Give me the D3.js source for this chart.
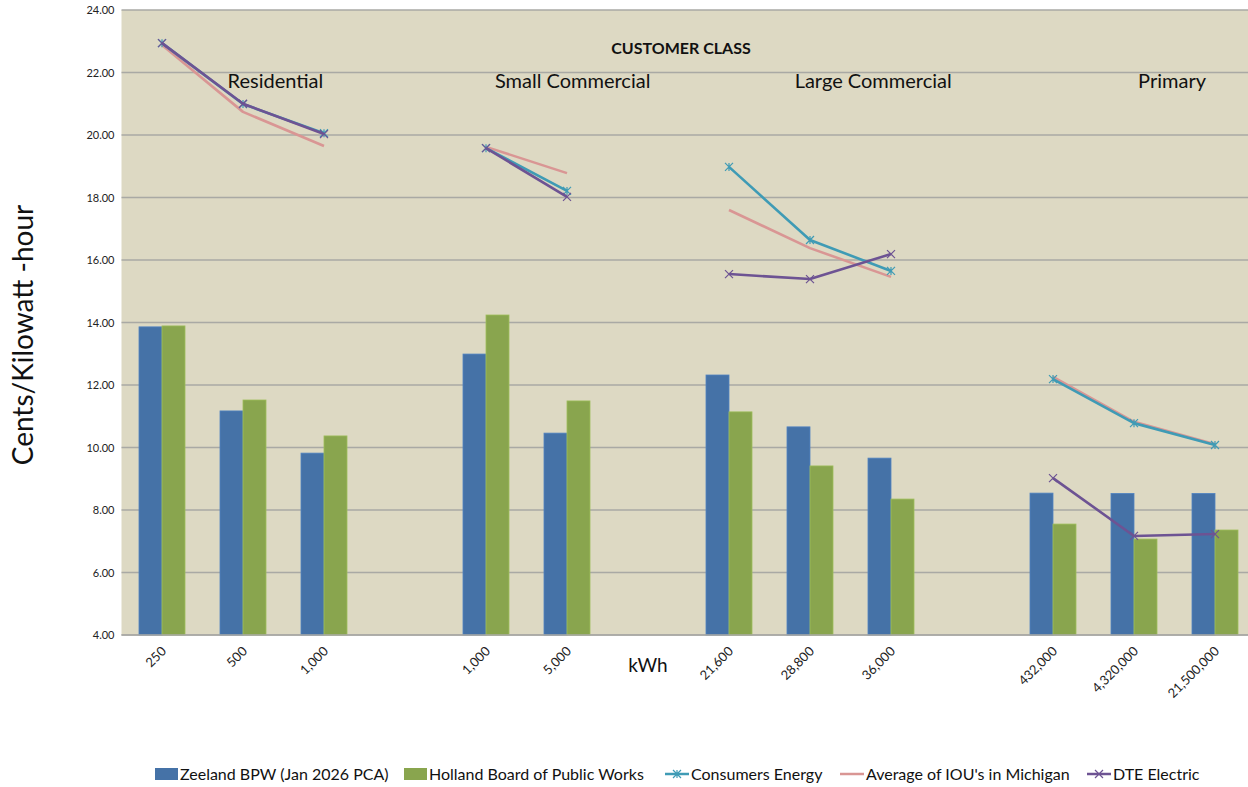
<!DOCTYPE html>
<html>
<head>
<meta charset="utf-8">
<script src="https://cdn.jsdelivr.net/npm/d3@7"></script>
<style>
  body { margin: 0; background: #fff; }
  svg { display: block; font-family: Lato, "Open Sans", sans-serif; }
</style>
</head>
<body>
<svg id="chart" width="1248" height="787"></svg>
<script>
// categories (blank ones are the gaps between customer classes)
var categories = ["250", "500", "1,000", "", "1,000 ", "5,000", " ", "21,600", "28,800", "36,000", "  ", "432,000", "4,320,000", "21,500,000"];

var zeeland   = [13.86, 11.17, 9.82, null, 12.99, 10.46, null, 12.32, 10.66, 9.66, null, 8.54, 8.53, 8.53];
var holland   = [13.89, 11.52, 10.37, null, 14.24, 11.49, null, 11.14, 9.41, 8.35, null, 7.55, 7.07, 7.36];
var consumers = [22.94, 20.99, 20.06, null, 19.58, 18.21, null, 18.98, 16.64, 15.65, null, 12.19, 10.78, 10.08];
var average   = [22.88, 20.74, 19.65, null, 19.62, 18.78, null, 17.60, 16.38, 15.46, null, 12.26, 10.82, 10.10];
var dte       = [22.94, 21.00, 20.03, null, 19.58, 18.02, null, 15.55, 15.39, 16.19, null, 9.02, 7.17, 7.23];

var yTicks = [4, 6, 8, 10, 12, 14, 16, 18, 20, 22, 24];

var classLabels = [
  {name: "Residential", at: 1.4},
  {name: "Small Commercial", at: 5.07},
  {name: "Large Commercial", at: 8.78},
  {name: "Primary", at: 12.47}
];

var width = 1248, height = 787;
var plotLeft = 121.5, plotTop = 10, plotBottom = 635;

var svg = d3.select("#chart");

// band range runs a little past the right edge, like the original
var x = d3.scaleBand()
    .domain(categories)
    .range([plotLeft, plotLeft + 81 * categories.length]);

var y = d3.scaleLinear()
    .domain([4, 24])
    .range([plotBottom, plotTop]);

var barW = 23;

// plot background
svg.append("rect")
    .attr("x", plotLeft)
    .attr("y", plotTop)
    .attr("width", width - plotLeft)
    .attr("height", plotBottom - plotTop)
    .attr("fill", "#ddd9c3");

// gridlines
svg.append("g")
    .selectAll("line")
    .data(yTicks)
  .enter().append("line")
    .attr("x1", plotLeft)
    .attr("x2", width)
    .attr("y1", function(d) { return y(d); })
    .attr("y2", function(d) { return y(d); })
    .attr("stroke", "#a9a9a4")
    .attr("stroke-width", 1.5);

// y axis labels
var yAxis = d3.axisLeft(y)
    .tickValues(yTicks)
    .tickFormat(d3.format(".2f"))
    .tickSize(0)
    .tickPadding(7);

var yG = svg.append("g")
    .attr("transform", "translate(" + plotLeft + ",0)")
    .call(yAxis);
yG.select(".domain").remove();
yG.selectAll("text")
    .attr("font-family", "Lato, sans-serif")
    .attr("font-size", 11)
    .attr("fill", "#222");

// x axis labels
var xAxis = d3.axisBottom(x).tickSize(0).tickPadding(0);
var xG = svg.append("g")
    .attr("transform", "translate(0," + plotBottom + ")")
    .call(xAxis);
xG.select(".domain").remove();
xG.selectAll("text")
    .attr("font-family", "Lato, sans-serif")
    .attr("font-size", 13)
    .attr("fill", "#222")
    .attr("text-anchor", "end")
    .attr("dy", 0)
    .attr("transform", "translate(5,17) rotate(-45)");

// bars
function drawBars(values, color, offset) {
  svg.append("g")
    .selectAll("rect")
    .data(values.map(function(v, i) { return {cat: categories[i], v: v}; })
      .filter(function(d) { return d.v != null; }))
  .enter().append("rect")
    .attr("x", function(d) { return x(d.cat) + x.bandwidth() / 2 + offset; })
    .attr("y", function(d) { return y(d.v); })
    .attr("width", barW)
    .attr("height", function(d) { return y(4) - y(d.v); })
    .attr("fill", color)
    .attr("stroke", d3.color(color).brighter(0.4))
    .attr("stroke-width", 0.8);
}
drawBars(zeeland, "#4572a7", -barW);
drawBars(holland, "#89a54e", 0);

// x axis line
svg.append("line")
    .attr("x1", plotLeft).attr("x2", width)
    .attr("y1", plotBottom).attr("y2", plotBottom)
    .attr("stroke", "#a9a9a4")
    .attr("stroke-width", 1.5);

// lines
function drawLine(values, color, marker) {
  var pts = values.map(function(v, i) { return {cat: categories[i], v: v}; });
  var line = d3.line()
    .defined(function(d) { return d.v != null; })
    .x(function(d) { return x(d.cat) + x.bandwidth() / 2; })
    .y(function(d) { return y(d.v); });
  svg.append("path")
    .datum(pts)
    .attr("d", line)
    .attr("fill", "none")
    .attr("stroke", color)
    .attr("stroke-width", 2.6)
    .attr("stroke-linejoin", "round");
  if (marker) {
    var g = svg.append("g");
    pts.filter(function(d) { return d.v != null; }).forEach(function(d) {
      var cx = x(d.cat) + x.bandwidth() / 2, cy = y(d.v), s = 4;
      var p = "M" + (cx - s) + "," + (cy - s) + "L" + (cx + s) + "," + (cy + s) +
              "M" + (cx - s) + "," + (cy + s) + "L" + (cx + s) + "," + (cy - s);
      if (marker == "star") p += "M" + cx + "," + (cy - s) + "L" + cx + "," + (cy + s);
      g.append("path").attr("d", p).attr("stroke", color).attr("stroke-width", 1.2).attr("fill", "none");
    });
  }
}
drawLine(average, "#d99694", null);
drawLine(consumers, "#3f9bb5", "star");
drawLine(dte, "#6d5393", "x");

// titles
svg.append("text")
    .attr("x", 681).attr("y", 54)
    .attr("text-anchor", "middle")
    .attr("font-size", 16)
    .attr("font-weight", "bold")
    .attr("fill", "#111")
    .text("CUSTOMER CLASS");

svg.append("g")
    .selectAll("text")
    .data(classLabels)
  .enter().append("text")
    .attr("x", function(d) { return plotLeft + x.step() * (d.at + 0.5); })
    .attr("y", 88)
    .attr("text-anchor", "middle")
    .attr("font-size", 20)
    .attr("fill", "#111")
    .text(function(d) { return d.name; });

svg.append("text")
    .attr("x", x(" ") + x.bandwidth() / 2)
    .attr("y", 672)
    .attr("text-anchor", "middle")
    .attr("font-size", 19)
    .attr("fill", "#111")
    .text("kWh");

svg.append("text")
    .attr("transform", "translate(33,335) rotate(-90)")
    .attr("text-anchor", "middle")
    .attr("font-size", 28)
    .attr("fill", "#111")
    .text("Cents/Kilowatt -hour");

// legend
var legend = [
  {name: "Zeeland BPW (Jan 2026 PCA)", color: "#4572a7", type: "rect", x: 155},
  {name: "Holland Board of Public Works", color: "#89a54e", type: "rect", x: 404},
  {name: "Consumers Energy", color: "#3f9bb5", type: "star", x: 665},
  {name: "Average of IOU's in Michigan", color: "#d99694", type: "line", x: 840},
  {name: "DTE Electric", color: "#6d5393", type: "x", x: 1087}
];
var lg = svg.append("g").attr("transform", "translate(0,774)");
legend.forEach(function(d) {
  var tx;
  if (d.type == "rect") {
    lg.append("rect").attr("x", d.x).attr("y", -6).attr("width", 23).attr("height", 12).attr("fill", d.color);
    tx = d.x + 25;
  } else {
    lg.append("line").attr("x1", d.x).attr("x2", d.x + 24).attr("y1", 0).attr("y2", 0)
      .attr("stroke", d.color).attr("stroke-width", 2.5);
    if (d.type != "line") {
      var cx = d.x + 12, s = 4;
      var p = "M" + (cx - s) + "," + (-s) + "L" + (cx + s) + "," + s + "M" + (cx - s) + "," + s + "L" + (cx + s) + "," + (-s);
      if (d.type == "star") p += "M" + cx + "," + (-s) + "L" + cx + "," + s;
      lg.append("path").attr("d", p).attr("stroke", d.color).attr("stroke-width", 1.2);
    }
    tx = d.x + 26;
  }
  lg.append("text").attr("x", tx).attr("y", 5.5).attr("font-size", 16)
    .attr("fill", "#111").text(d.name);
});
</script>
</body>
</html>
